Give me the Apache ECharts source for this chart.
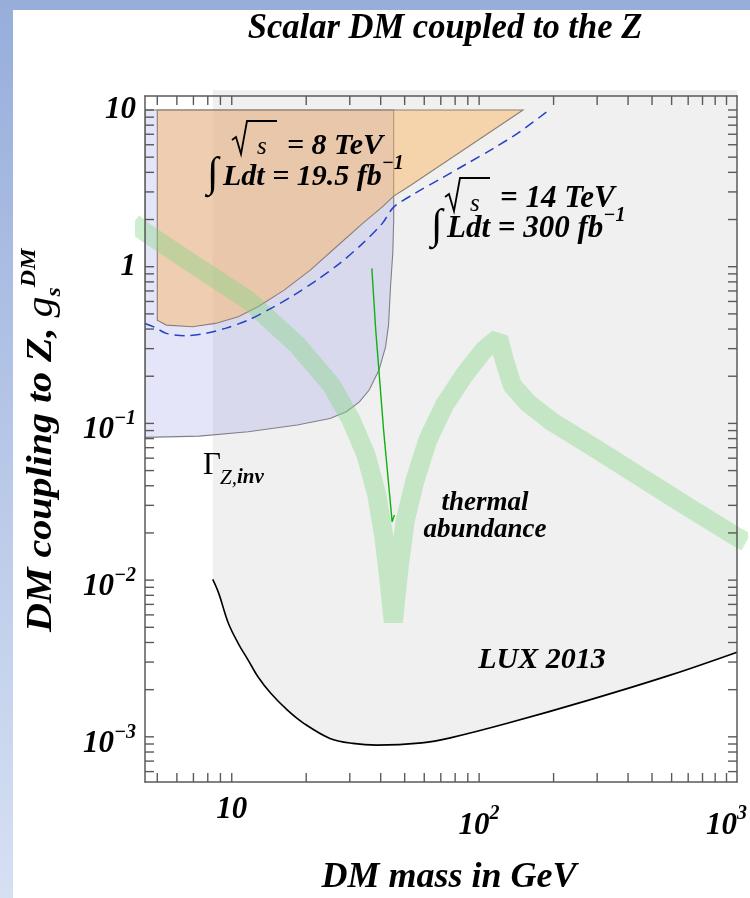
<!DOCTYPE html>
<html>
<head>
<meta charset="utf-8">
<title>Scalar DM coupled to the Z</title>
<script src="https://cdn.jsdelivr.net/npm/echarts@6/dist/echarts.min.js"></script>
<style>
  html, body { margin: 0; padding: 0; background: #ffffff; }
  #bandTop { position: absolute; left: 0; top: 0; width: 750px; height: 10px; background: #97aedb; }
  #bandLeft { position: absolute; left: 0; top: 0; width: 13px; height: 898px; background: linear-gradient(#97aedb, #d6e0f3); }
  #chart { position: absolute; left: 0; top: 0; width: 750px; height: 898px; }
</style>
</head>
<body>
<div id="bandTop"></div>
<div id="bandLeft"></div>
<div id="chart"></div>
<script>
// Axis ranges (DM mass in GeV, coupling g_s^DM)
const X_MIN = 4.46, X_MAX = 1103;
const Y_MIN = 5.15e-4, Y_MAX = 12.28;
const Y_LUX_TOP = 13.4;           // LUX shading runs a little past the frame top

// Tick positions (all four frame sides)
const xTicks = [5, 6, 7, 8, 9, 10, 20, 30, 40, 50, 60, 70, 80, 90, 100,
                200, 300, 400, 500, 600, 700, 800, 900, 1000];
const yTicks = [6e-4, 7e-4, 8e-4, 9e-4, 1e-3, 2e-3, 3e-3, 4e-3, 5e-3, 6e-3, 7e-3, 8e-3, 9e-3,
                0.01, 0.02, 0.03, 0.04, 0.05, 0.06, 0.07, 0.08, 0.09,
                0.1, 0.2, 0.3, 0.4, 0.5, 0.6, 0.7, 0.8, 0.9,
                1, 2, 3, 4, 5, 6, 7, 8, 9, 10];

// LUX 2013 direct detection limit
const luxMass = [8.38, 8.86, 9.70, 10.63, 11.65, 12.76, 14.41, 16.79, 19.55, 24.94, 30.88,
                 38.56, 58.7, 76.5, 130, 277.5, 592, 1103];
const luxCoupling = [0.0101, 0.00823, 0.00529, 0.00394, 0.00309, 0.00242, 0.00189, 0.00148,
                     0.00122, 0.000977, 0.000908, 0.000885, 0.000915, 0.000985, 0.00122,
                     0.001715, 0.002476, 0.00347];

// Invisible Z width bound
const zinvMass = [4.46, 7.38, 11.65, 18.4, 24.94, 29.05, 32.8, 35.94, 39.37, 41.86, 43.03,
                  43.83, 44.76, 45.15, 45.15];
const zinvCoupling = [0.0814, 0.0830, 0.0884, 0.0976, 0.1076, 0.1186, 0.1373, 0.1632, 0.2189,
                      0.308, 0.424, 0.744, 1.216, 1.98, 10];

// LHC 8 TeV, 19.5 fb^-1 exclusion
const lhc8Mass = [5, 5, 5.44, 6.94, 8.59, 10.63, 12.76, 16.29, 20.77, 26.5, 33.83, 40.62,
                  45.15, 51.8, 150.5];
const lhc8Coupling = [10, 0.456, 0.424, 0.4135, 0.4346, 0.479, 0.5546, 0.709, 0.951, 1.34,
                      1.89, 2.41, 2.82, 3.24, 10];

// LHC 14 TeV, 300 fb^-1 projection
const lhc14Mass = [4.46, 4.89, 5.44, 6.53, 7.84, 9.41, 11.65, 14.41, 17.85, 22.08, 27.32,
                   33.83, 40.62, 45.15, 55.1, 70.3, 89.6, 114.4, 146, 192];
const lhc14Coupling = [0.4345, 0.410, 0.3753, 0.3623, 0.3753, 0.404, 0.456, 0.542, 0.659,
                       0.821, 1.05, 1.408, 1.89, 2.40, 2.94, 3.66, 4.56, 5.69, 7.26, 10];

// Thermal relic abundance band
const thermalMass = [4.0, 4.46, 7.38, 11.65, 18.4, 25.3, 30.4, 34.9, 38.6, 41.1, 43.0, 45.0,
                     47.6, 50.3, 55.1, 62.0, 72.4, 87.0, 104.4, 119.7, 126.5, 136.1, 157.5,
                     198, 285, 450, 711, 1103, 1200];
const thermalCoupling = [1.90, 1.663, 0.980, 0.612, 0.3165, 0.1755, 0.105, 0.0628, 0.0349,
                         0.0194, 0.01076, 0.0054, 0.01246, 0.02415, 0.0435, 0.0782, 0.1308,
                         0.2033, 0.2936, 0.3503, 0.2535, 0.1755, 0.1348, 0.1019, 0.0716,
                         0.0454, 0.0288, 0.0188, 0.01748];

// Thin thermal curve near the Z pole
const poleMass = [36.84, 38.2, 41.1, 44.5, 45.45];
const poleCoupling = [0.975, 0.394, 0.0906, 0.02355, 0.026];

const SERIF = "'Liberation Serif', 'DejaVu Serif', serif";
const FRAME = '#5a5a5a';
const TICK_LEN = 9;
const TEXT_Z = 50;

const pairs = (xs, ys) => xs.map((x, i) => [x, ys[i]]);

function polygonSeries(name, xs, ys, z, fill, stroke, closeTo, clip) {
  return {
    name, type: 'custom', z, clip,
    data: [[xs[0], ys[0]]],
    renderItem(params, api) {
      const pts = pairs(xs, ys).concat(closeTo || []).map(p => api.coord(p));
      return {
        type: 'polygon',
        shape: { points: pts },
        style: { fill, stroke: stroke || null, lineWidth: stroke ? 1.1 : 0 }
      };
    }
  };
}

function tickSeries(values, vertical) {
  return {
    type: 'custom', z: 20, silent: true,
    data: values.map(v => vertical ? [v, Y_MIN] : [X_MIN, v]),
    renderItem(params, api) {
      const style = { stroke: FRAME, lineWidth: 1.4 };
      if (vertical) {
        const b = api.coord([api.value(0), Y_MIN]);
        const t = api.coord([api.value(0), Y_MAX]);
        return { type: 'group', children: [
          { type: 'line', shape: { x1: b[0], y1: b[1], x2: b[0], y2: b[1] - TICK_LEN }, style },
          { type: 'line', shape: { x1: t[0], y1: t[1], x2: t[0], y2: t[1] + TICK_LEN }, style }
        ]};
      }
      const l = api.coord([X_MIN, api.value(1)]);
      const r = api.coord([X_MAX, api.value(1)]);
      return { type: 'group', children: [
        { type: 'line', shape: { x1: l[0], y1: l[1], x2: l[0] + TICK_LEN, y2: l[1] }, style },
        { type: 'line', shape: { x1: r[0], y1: r[1], x2: r[0] - TICK_LEN, y2: r[1] }, style }
      ]};
    }
  };
}

const isPow10 = v => Math.abs(Math.log10(v) - Math.round(Math.log10(v))) < 1e-6;
const labelRich = {
  b: { fontFamily: SERIF, fontWeight: 'bold', fontStyle: 'italic', fontSize: 31, color: '#000' },
  p: { fontFamily: SERIF, fontWeight: 'bold', fontStyle: 'italic', fontSize: 31, color: '#000',
       padding: [14, 0, 0, 0], verticalAlign: 'bottom' },
  s: { fontFamily: SERIF, fontWeight: 'bold', fontStyle: 'italic', fontSize: 20, color: '#000',
       padding: [8, 0, 0, 0], verticalAlign: 'top' }
};
const labelRichX = Object.assign({}, labelRich, {
  p: Object.assign({}, labelRich.p, { padding: [16, 0, 0, 0] }),
  s: Object.assign({}, labelRich.s, { padding: [10, 0, 0, 0] })
});
function powLabel(v) {
  if (!isPow10(v)) return '';
  const n = Math.round(Math.log10(v));
  if (n === 0) return '{b|1}';
  if (n === 1) return '{b|10}';
  return '{p|10}{s|' + String(n).replace('-', '\u2212') + '}';
}

const axisCommon = {
  type: 'log', z: 20,
  axisLine: { show: true, lineStyle: { color: FRAME, width: 1.5 } },
  axisTick: { show: false }, splitLine: { show: false }, minorTick: { show: false }
};

const chart = echarts.init(document.getElementById('chart'), null, { renderer: 'canvas' });

// Composite sqrt(s) / luminosity annotation
function energyLabel(o) {
  const bold = 'bold italic ' + o.fs + 'px ' + SERIF;
  return {
    type: 'group', z: TEXT_Z, children: [
      { type: 'polyline', z: TEXT_Z, shape: { points: [[o.rx, o.by + 19], [o.rx + 4, o.by + 16],
          [o.rx + 9, o.by + 33], [o.rx + 15, o.by], [o.rx + o.bar, o.by]] },
        style: { stroke: '#000', lineWidth: 1.8, fill: 'none' } },
      { type: 'text', z: TEXT_Z, x: o.rx + 25, y: o.by + 26,
        style: { text: 's', font: 'italic 25px ' + SERIF, fill: '#000', verticalAlign: 'middle' } },
      { type: 'text', z: TEXT_Z, x: o.t1x, y: o.t1y,
        style: { text: o.line1, font: bold, fill: '#000', verticalAlign: 'middle' } },
      { type: 'text', z: TEXT_Z, x: o.ix, y: o.t2y + 2,
        style: { text: '\u222B', font: 'italic 42px ' + SERIF, fill: '#000', verticalAlign: 'middle' } },
      { type: 'text', z: TEXT_Z, x: o.t2x, y: o.t2y,
        style: { text: '{m|' + o.line2 + '}{s|\u22121}', verticalAlign: 'middle',
          rich: {
            m: { font: bold, fill: '#000', padding: [8, 0, 0, 0], verticalAlign: 'bottom' },
            s: { font: 'bold italic 20px ' + SERIF, fill: '#000', verticalAlign: 'top' }
          } } }
    ]
  };
}

function plainText(x, y, text, font, align, extra) {
  return Object.assign({ type: 'text', x, y, z: TEXT_Z,
    style: { text, font, fill: '#000', align: align || 'left', verticalAlign: 'middle' } }, extra || {});
}

const option = {
  animation: false,
  backgroundColor: 'transparent',
  grid: { left: 145, top: 96, width: 603, height: 686, show: false },
  xAxis: [
    Object.assign({}, axisCommon, { min: X_MIN, max: X_MAX, position: 'bottom',
      axisLabel: { formatter: powLabel, rich: labelRichX, margin: 12,
                   showMinLabel: false, showMaxLabel: false } }),
    Object.assign({}, axisCommon, { min: X_MIN, max: X_MAX, position: 'top', axisLabel: { show: false } })
  ],
  yAxis: [
    Object.assign({}, axisCommon, { min: Y_MIN, max: Y_MAX, position: 'left',
      axisLabel: { formatter: powLabel, rich: labelRich, margin: 9,
                   showMinLabel: false, showMaxLabel: false } }),
    Object.assign({}, axisCommon, { min: Y_MIN, max: Y_MAX, position: 'right', axisLabel: { show: false } })
  ],
  series: [
    // LUX excluded region (above the limit curve)
    polygonSeries('LUX region', luxMass, luxCoupling, 1, '#f0f0f0', null,
                  [[X_MAX, Y_LUX_TOP], [luxMass[0], Y_LUX_TOP]], false),
    // Gamma_Z,inv excluded region
    polygonSeries('Z width', zinvMass, zinvCoupling, 2, 'rgba(125,125,230,0.2)', '#808088',
                  [[zinvMass[0], 10]], true),
    // LHC 8 TeV excluded region
    polygonSeries('LHC 8 TeV', lhc8Mass, lhc8Coupling, 3, 'rgba(250,178,88,0.45)', '#8c7f74',
                  null, true),
    {
      name: 'thermal abundance', type: 'line', z: 4, symbol: 'none',
      data: pairs(thermalMass, thermalCoupling), clip: true,
      lineStyle: { color: 'rgba(130,214,130,0.4)', width: 19, join: 'bevel', cap: 'butt' }
    },
    {
      name: 'pole', type: 'line', z: 5, symbol: 'none',
      data: pairs(poleMass, poleCoupling),
      lineStyle: { color: '#10b010', width: 1.4 }
    },
    {
      name: 'LHC 14 TeV', type: 'line', z: 6, symbol: 'none', smooth: 0.3,
      data: pairs(lhc14Mass, lhc14Coupling),
      lineStyle: { color: '#2542c4', width: 1.5, type: [10, 6] }
    },
    {
      name: 'LUX 2013', type: 'line', z: 7, symbol: 'none', smooth: 0.35,
      data: pairs(luxMass, luxCoupling),
      lineStyle: { color: '#000', width: 1.6 }
    },
    tickSeries(xTicks, true),
    tickSeries(yTicks, false)
  ],
  graphic: [
    plainText(445, 29, 'Scalar DM coupled to the Z', 'bold italic 36px ' + SERIF, 'center', { scaleX: 0.96 }),
    plainText(449, 878, 'DM mass in GeV', 'bold italic 36px ' + SERIF, 'center'),
    { type: 'text', x: 42, y: 632, rotation: Math.PI / 2, scaleY: 0.88, z: TEXT_Z,
      style: { text: '{m|DM coupling to Z, }{g|g}{sub|s}{sup|DM}', align: 'left', verticalAlign: 'middle',
        rich: {
          m: { font: 'bold italic 40px ' + SERIF, fill: '#000', verticalAlign: 'middle' },
          g: { font: 'italic 42px ' + SERIF, fill: '#000', verticalAlign: 'middle' },
          sub: { font: 'bold italic 24px ' + SERIF, fill: '#000', padding: [28, 0, 0, 0], verticalAlign: 'top' },
          sup: { font: 'bold italic 24px ' + SERIF, fill: '#000', verticalAlign: 'top' }
        } } },
    energyLabel({ fs: 30, rx: 232, by: 121, bar: 45, t1x: 287, t1y: 146,
                  ix: 207, t2x: 223, t2y: 173, line1: '= 8 TeV', line2: 'Ldt = 19.5 fb' }),
    energyLabel({ fs: 31, rx: 445, by: 178, bar: 45, t1x: 500, t1y: 199,
                  ix: 431, t2x: 447, t2y: 225, line1: '= 14 TeV', line2: 'Ldt = 300 fb' }),
    plainText(203, 466, '\u0393', '31px ' + SERIF),
    { type: 'text', x: 220, y: 478, z: TEXT_Z,
      style: { text: '{z|Z,}{i|inv}', verticalAlign: 'middle',
        rich: { z: { font: 'italic 21px ' + SERIF, fill: '#000' },
                i: { font: 'bold italic 21px ' + SERIF, fill: '#000' } } } },
    plainText(485, 503, 'thermal', 'bold italic 27px ' + SERIF, 'center'),
    plainText(485, 530, 'abundance', 'bold italic 27px ' + SERIF, 'center'),
    plainText(542, 660, 'LUX 2013', 'bold italic 30px ' + SERIF, 'center')
  ]
};
chart.setOption(option);
</script>
</body>
</html>
